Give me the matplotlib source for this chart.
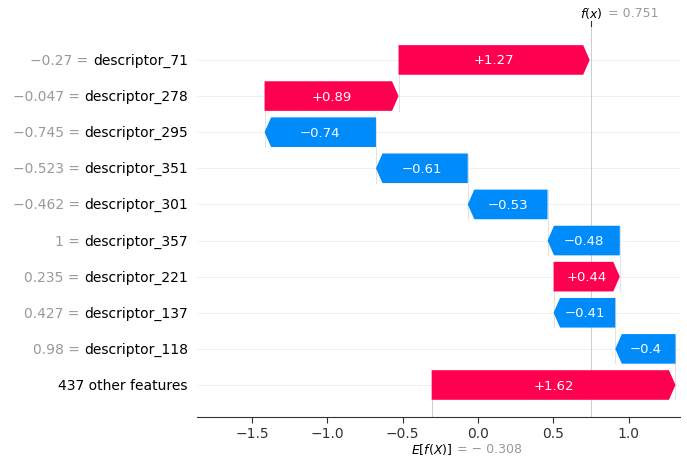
import matplotlib
matplotlib.use("Agg")
import matplotlib.pyplot as plt

# feature rows, top to bottom
feature_names = [
    "descriptor_71", "descriptor_278", "descriptor_295", "descriptor_351",
    "descriptor_301", "descriptor_357", "descriptor_221", "descriptor_137",
    "descriptor_118", "437 other features",
]
feature_values = [-0.27, -0.047, -0.745, -0.523, -0.462, 1, 0.235, 0.427, 0.98, None]
shap_values = [1.27, 0.89, -0.74, -0.61, -0.53, -0.48, 0.44, -0.41, -0.40, 1.62]
base_value = -0.308
fx_value = 0.751

RED = "#ff0051"
BLUE = "#008bfb"
GRAY = "#999999"


def fmt(v, plus=False):
    s = f"{v:+.2f}" if plus else f"{v:.3f}"
    s = s.rstrip("0").rstrip(".")
    return s.replace("-", "\u2212")


n = len(feature_names)
ypos = [n - 1 - i for i in range(n)]

fig = plt.figure(figsize=(6.87, 4.6), dpi=100)
ax = fig.add_axes([197 / 687, 1 - 418 / 460, 483 / 687, 391 / 460])
ax.set_xlim(-1.867, 1.342)
ax.set_ylim(-0.886, n - 1 + 0.94)

# arrow head length ~6.5 px in data units
px_per_unit = 150.5
head_len = 6.5 / px_per_unit
bar_h = 0.82

# walk from the bottom row (base value) upward
cum = base_value
ends = {}
for i in reversed(range(n)):
    v = shap_values[i]
    y = ypos[i]
    start = cum
    cum = cum + v
    ends[i] = (start, cum)
    color = RED if v > 0 else BLUE
    ax.arrow(start, y, v, 0, width=bar_h, head_width=bar_h,
             head_length=min(head_len, abs(v)), length_includes_head=True,
             color=color, linewidth=0, zorder=3)
    ax.text(start + v / 2, y, fmt(v, plus=True), ha="center", va="center",
            color="white", fontsize=9.5, zorder=4)

# row grid lines
for y in ypos:
    ax.axhline(y, color="#eeeeee", lw=0.6, zorder=-1)

# connectors between consecutive bars
for i in range(n - 1):
    loc = ends[i][0]
    ax.plot([loc, loc], [ypos[i] - 1 - 0.4, ypos[i] + 0.4], color="#dddddd",
            lw=0.6, zorder=-1)

ax.plot([base_value, base_value], [-0.886, 0], color="#cccccc", lw=0.7, zorder=-1)
ax.axvline(fx_value, color="#cccccc", lw=0.7, zorder=-1)

# y labels: black feature name, gray "value = " in front of it
fig.canvas.draw()
renderer = fig.canvas.get_renderer()
for i, name in enumerate(feature_names):
    t = ax.annotate(name, xy=(0, ypos[i]), xycoords=("axes fraction", "data"),
                    xytext=(-6.5, 0), textcoords="offset points", ha="right",
                    va="center", fontsize=10, color="black")
    val = feature_values[i]
    if val is not None:
        w_pt = t.get_window_extent(renderer).width * 72 / fig.dpi
        ax.annotate(f"{fmt(val)} = ", xy=(0, ypos[i]),
                    xycoords=("axes fraction", "data"), xytext=(-6.5 - w_pt, 0),
                    textcoords="offset points", ha="right", va="center",
                    fontsize=10, color=GRAY)

# E[f(X)] and f(x) labels
ax.annotate("$E[f(X)]$", xy=(base_value, 0), xycoords=("data", "axes fraction"),
            xytext=(0, -22.5), textcoords="offset points", ha="center", va="center",
            fontsize=9, color="black")
ax.annotate("= " + fmt(base_value).replace("\u2212", "\u2212 "), xy=(base_value, 0),
            xycoords=("data", "axes fraction"), xytext=(18.5, -22.5),
            textcoords="offset points", ha="left", va="center", fontsize=9,
            color=GRAY)
ax.annotate("$f(x)$", xy=(fx_value, 1), xycoords=("data", "axes fraction"),
            xytext=(0, 10), textcoords="offset points", ha="center", va="center",
            fontsize=9, color="black")
ax.annotate(f"= {fx_value:.3f}", xy=(fx_value, 1),
            xycoords=("data", "axes fraction"), xytext=(12, 10),
            textcoords="offset points", ha="left", va="center", fontsize=9,
            color=GRAY)
# small tick at f(x) on the top edge
ax.plot([fx_value, fx_value], [1, 1.012], transform=ax.get_xaxis_transform(),
        color="#333333", lw=0.8, clip_on=False)

ax.set_xticks([-1.5, -1.0, -0.5, 0.0, 0.5, 1.0])
ax.set_yticks([])
for s in ["left", "right", "top"]:
    ax.spines[s].set_visible(False)
ax.spines["bottom"].set_color("#333333")
ax.tick_params(axis="x", labelsize=10, colors="#333333", length=4, pad=2.5)

fig.savefig("out.png", dpi=100)
